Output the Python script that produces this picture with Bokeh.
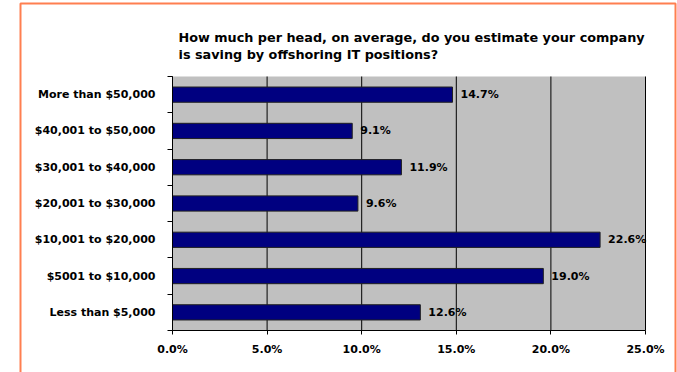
from bokeh.plotting import figure
from bokeh.models import (ColumnDataSource, Range1d, FixedTicker, PrintfTickFormatter,
                          LabelSet, Label, BoxAnnotation)
from bokeh.core.properties import value
from bokeh.embed import file_html
from bokeh.resources import INLINE

# ---- data (bottom to top) ----
categories = [
    "Less than $5,000",
    "$5001 to $10,000",
    "$10,001 to $20,000",
    "$20,001 to $30,000",
    "$30,001 to $40,000",
    "$40,001 to $50,000",
    "More than $50,000",
]
bar_values = [13.1, 19.6, 22.6, 9.8, 12.1, 9.5, 14.8]
value_labels = ["12.6%", "19.0%", "22.6%", "9.6%", "11.9%", "9.1%", "14.7%"]
x_ticks = [0, 5, 10, 15, 20, 25]
title_lines = [
    "How much per head, on average, do you estimate your company",
    "is saving by offshoring IT positions?",
]

# ---- layout (pixels) ----
W, H = 677, 372
AREA_L, AREA_R, AREA_T, AREA_B = 172, 645, 76, 330
FONT = "DejaVu Sans"

n = len(categories)
positions = [i + 0.5 for i in range(n)]
boundaries = [i for i in range(n + 1)]
x_lo, x_hi = x_ticks[0], x_ticks[-1]

xu = (x_hi - x_lo) / (AREA_R - AREA_L)
yu = n / (AREA_B - AREA_T)
x_range = Range1d(x_lo - AREA_L * xu, x_hi + (W - AREA_R) * xu)
y_range = Range1d(0 - (H - AREA_B) * yu, n + AREA_T * yu)

source = ColumnDataSource(dict(y=positions, right=bar_values, label=value_labels))

p = figure(width=W, height=H, output_backend="svg", toolbar_location=None,
           x_range=x_range, y_range=y_range,
           min_border=0)
p.background_fill_color = "white"
p.border_fill_color = "white"
p.outline_line_color = None
p.xgrid.visible = False
p.ygrid.visible = False

# plot area background
p.quad(left=x_lo, right=x_hi, bottom=0, top=n, fill_color="#C0C0C0", line_color=None)
# vertical grid lines
p.segment(x0=x_ticks, y0=[0] * len(x_ticks), x1=x_ticks, y1=[n] * len(x_ticks),
          line_color="black", line_width=1)
# bars
p.hbar(y="y", left=0, right="right", height=0.42, source=source,
       fill_color="#000080", line_color="#202020", line_width=1)

# x axis
xa = p.xaxis[0]
xa.fixed_location = 0
xa.bounds = (x_lo, x_hi)
xa.ticker = FixedTicker(ticks=x_ticks)
xa.formatter = PrintfTickFormatter(format="%.1f%%")
xa.major_tick_in = 0
xa.major_tick_out = 4
xa.minor_tick_in = 0
xa.minor_tick_out = 0
xa.axis_line_color = "black"
xa.major_tick_line_color = "black"
xa.major_label_standoff = 8
xa.major_label_text_font = FONT
xa.major_label_text_font_style = "bold"
xa.major_label_text_font_size = "11px"
xa.major_label_text_color = "black"

# y axis
ya = p.yaxis[0]
ya.fixed_location = 0
ya.bounds = (0, n)
ya.ticker = FixedTicker(ticks=positions, minor_ticks=boundaries)
ya.major_label_overrides = {pos: cat for pos, cat in zip(positions, categories)}
ya.major_tick_in = 0
ya.major_tick_out = 0
ya.minor_tick_in = 0
ya.minor_tick_out = 5
ya.minor_tick_line_color = "black"
ya.axis_line_color = "black"
ya.major_label_standoff = 12
ya.major_label_text_font = FONT
ya.major_label_text_font_style = "bold"
ya.major_label_text_font_size = "11px"
ya.major_label_text_color = "black"

labels = LabelSet(x="right", y="y", text="label", source=source, x_offset=8,
                  text_baseline="middle", text_align="left",
                  text_font=value(FONT), text_font_style="bold",
                  text_font_size="11px", text_color="black")
p.add_layout(labels)

for i, line in enumerate(title_lines):
    p.add_layout(Label(x=178, y=H - 37 - 17 * i, x_units="screen", y_units="screen",
                       text=line, text_font=FONT, text_font_style="bold",
                       text_font_size="12.8px", text_color="black",
                       text_baseline="alphabetic"))

p.add_layout(BoxAnnotation(left=20, right=675, top=H - 3, bottom=-20,
                           left_units="screen", right_units="screen",
                           top_units="screen", bottom_units="screen",
                           fill_alpha=0, line_color="#FF7F50", line_alpha=1.0,
                           line_width=2))

open("out.html", "w").write(file_html(p, INLINE))
